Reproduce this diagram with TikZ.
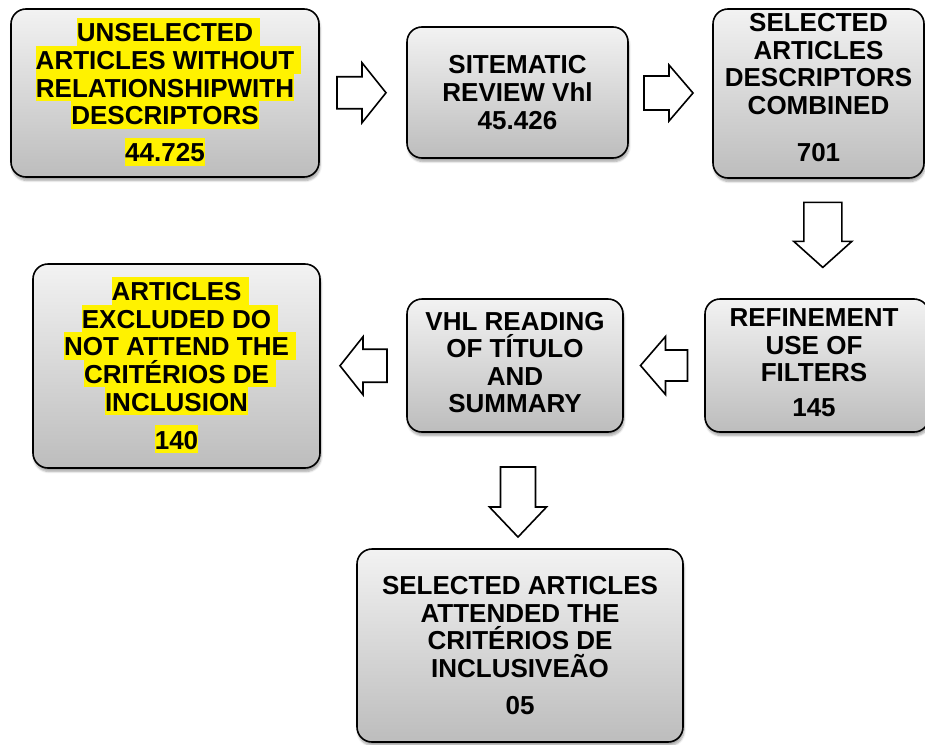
\documentclass[tikz,border=0pt]{standalone}
\usepackage{fontspec}
\setmainfont{Liberation Sans}
\usetikzlibrary{calc,shadows.blur}
\newcommand\hlx[1]{{\setlength\fboxsep{0pt}\colorbox{yellow}{\rule[-4pt]{0pt}{27.6pt}#1}}}
\newcommand\hls[1]{{\setlength\fboxsep{0pt}\colorbox{yellow}{\rule[-4pt]{0pt}{27.6pt}#1}\rlap{\colorbox{yellow}{\rule[-4pt]{0pt}{27.6pt}\hspace{7pt}}}}}
\tikzset{
  box/.style={draw=black, line width=1.6pt, rounded corners=15pt, inner sep=0pt,
    top color=black!5, bottom color=black!26,
    blur shadow={shadow xshift=1pt, shadow yshift=-3.5pt, shadow blur steps=6, shadow opacity=35}},
  txt/.style={align=center, inner sep=0pt, font=\fontsize{26}{27.6}\selectfont\bfseries},
  arrowline/.style={draw=black, line width=1.6pt, fill=white, line join=miter},
  pics/barrow/.style args={#1/#2/#3/#4}{code={
    \path[arrowline] ({-#1/2},{-#4/2}) -- ({#1/2-#2},{-#4/2}) -- ({#1/2-#2},{-#3/2})
      -- ({#1/2},0) -- ({#1/2-#2},{#3/2}) -- ({#1/2-#2},{#4/2}) -- ({-#1/2},{#4/2}) -- cycle;
  }}
}
\begin{document}
\begin{tikzpicture}[x=1pt,y=-1pt]
\useasboundingbox (0,0) rectangle (925,744);
% boxes
\node[box, minimum width=308pt, minimum height=168pt] (b1) at (165,93) {};
\node[box, minimum width=221pt, minimum height=131pt] (b2) at (517.5,92.5) {};
\node[box, minimum width=211pt, minimum height=169pt] (b3) at (818.5,93.5) {};
\node[box, minimum width=287pt, minimum height=204pt] (b4) at (176.5,366) {};
\node[box, minimum width=216pt, minimum height=133pt] (b5) at (515,365.5) {};
\node[box, minimum width=224pt, minimum height=133pt] (b6) at (817,365.5) {};
\node[box, minimum width=326pt, minimum height=193pt] (b7) at (520,645.5) {};
% texts
\node[txt] (t1) at ([yshift=1pt]b1.center) {\hls{UNSELECTED}\\\hls{ARTICLES WITHOUT}\\\hlx{RELATIONSHIPWITH}\\\hlx{DESCRIPTORS}\\[9.4pt]\hlx{44.725}};
\node[txt] (t2) at (b2.center) {SITEMATIC\\REVIEW Vhl\\45.426};
\node[txt] (t3) at ([yshift=6pt]b3.center) {SELECTED\\ARTICLES\\DESCRIPTORS\\COMBINED\\[19.4pt]701};
\node[txt] (t4) at ([yshift=1pt]b4.center) {\hls{ARTICLES}\\\hls{EXCLUDED DO}\\\hls{NOT ATTEND THE}\\\hls{CRITÉRIOS DE}\\\hlx{INCLUSION}\\[10.4pt]\hlx{140}};
\node[txt] (t5) at ([yshift=3pt]b5.center) {VHL READING\\OF TÍTULO\\AND\\SUMMARY};
\node[txt] (t6) at ([yshift=2.5pt,xshift=-3pt]b6.center) {REFINEMENT\\USE OF\\FILTERS\\[7.4pt]145};
\node[txt] (t7) at (b7.center) {SELECTED ARTICLES\\ATTENDED THE\\CRITÉRIOS DE\\INCLUSIVEÃO\\[9.4pt]05};
% block arrows
\pic at ([xshift=-1.5pt]$(b1.east)!0.5!(b2.west)$) {barrow=49/24/60/32};
\pic at ([xshift=-2pt]$(b2.east)!0.5!(b3.west)$) {barrow=49/24/56/34};
\pic[rotate=-90] at ([xshift=5pt]$(b3.south)!0.47!(b6.north)$) {barrow=65/26/58/38};
\pic[rotate=180] at ($(b6.west)!0.5!(b5.east)$) {barrow=47/25/58/31};
\pic[rotate=180] at ($(b5.west)!0.5!(b4.east)$) {barrow=47/23/58/33};
\pic[rotate=-90] at ($(b5.south)!0.6!(b7.north)$) {barrow=70/30/57/35};
\end{tikzpicture}
\end{document}
